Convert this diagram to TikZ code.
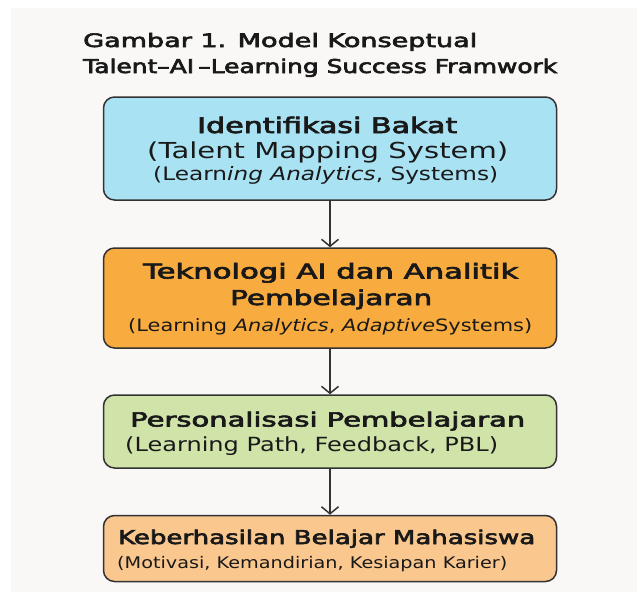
\documentclass[tikz,border=0pt]{standalone}
\usepackage{fontspec}
\usepackage{graphicx}
\setmainfont{DejaVu Sans}
\newfontfamily\semib[FakeBold=3]{DejaVu Sans}
\usetikzlibrary{arrows.meta}
\definecolor{bgc}{HTML}{F9F8F6}
\definecolor{edgec}{HTML}{333333}
\definecolor{bluec}{HTML}{A9E2F3}
\definecolor{orangec}{HTML}{F8AC3F}
\definecolor{greenc}{HTML}{D0E3A9}
\definecolor{peachc}{HTML}{FAC88F}
\newcommand{\fitw}[3]{\resizebox{#1pt}{\height}{\fontsize{#2}{#2}\selectfont #3}}
\tikzset{
  box/.style={draw=edgec, line width=1.5pt, rounded corners=11pt, minimum width=453pt, inner sep=0pt},
  txtl/.style={anchor=base west, inner sep=0pt, text=black!90},
  flow/.style={draw=edgec, line width=1.5pt, -{Straight Barb[length=7pt,width=17pt,line width=1.5pt]}},
}
\begin{document}
\begin{tikzpicture}[x=1pt,y=-1pt]
\useasboundingbox (0,0) rectangle (637,592);
\fill[white] (0,0) rectangle (637,592);
\fill[bgc] (11,8) rectangle (637,592);
% title
\node[txtl] (t1) at (83,47) {\fitw{394}{18.5}{\semib Gambar 1. Model Konseptual}};
\node[txtl] (t2) at (83,73) {\fitw{474}{19}{\semib Talent–AI\,–Learning Success Framwork}};
% boxes
\node[box, fill=bluec, minimum height=103pt] (b1) at (330,148.5) {};
\node[box, fill=orangec, minimum height=100pt] (b2) at (330,298) {};
\node[box, fill=greenc, minimum height=73pt] (b3) at (330,431.5) {};
\node[box, fill=peachc, minimum height=66pt] (b4) at (330,548.5) {};
% box 1 text
\node[txtl] (l11) at (197,133) {\fitw{260}{21.5}{\semib Identifikasi Bakat}};
\node[txtl] (l12) at (147,158) {\fitw{361}{22}{(Talent Mapping System)}};
\node[txtl] (l13) at (153,180.5) {\fitw{345}{18.5}{(Learn\emph{ing Analytics}, Systems)}};
% box 2 text
\node[txtl] (l21) at (143,278.5) {\fitw{375}{20.5}{\semib Teknologi AI dan Analitik}};
\node[txtl] (l22) at (230,305) {\fitw{202}{20.5}{\semib Pembelajaran}};
\node[txtl] (l23) at (128,331) {\fitw{404}{17}{(Learning \emph{Analytics}, \emph{Adaptive}Systems)}};
% box 3 text
\node[txtl] (l31) at (130,426.5) {\fitw{395}{19.5}{\semib Personalisasi Pembelajaran}};
\node[txtl] (l32) at (125,451) {\fitw{373}{19.5}{(Learning Path, Feedback, PBL)}};
% box 4 text
\node[txtl] (l41) at (118,544) {\fitw{417}{19}{\semib Keberhasilan Belajar Mahasiswa}};
\node[txtl] (l42) at (117,568.5) {\fitw{390}{16}{(Motivasi, Kemandirian, Kesiapan Karier)}};
% arrows
\draw[flow] (b1.south) -- (b2.north);
\draw[flow] (b2.south) -- (b3.north);
\draw[flow] (b3.south) -- (b4.north);
\end{tikzpicture}
\end{document}
